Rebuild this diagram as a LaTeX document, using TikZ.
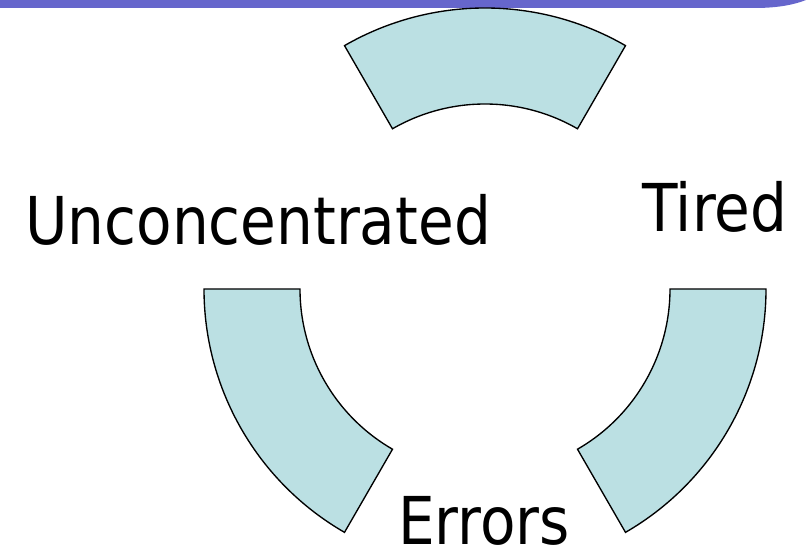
\documentclass[tikz,border=0pt]{standalone}
\usepackage{fontspec}
\usetikzlibrary{calc}
\setmainfont{DejaVu Sans}[FakeStretch=0.88]
\definecolor{segfill}{HTML}{BBE0E3}
\definecolor{barblue}{HTML}{6666CC}
\tikzset{
  seg/.style={fill=segfill, draw=black, line width=1.35bp, line join=miter},
  lbl/.style={anchor=base west, inner sep=0pt, font=\fontsize{66bp}{70bp}\selectfont},
}
\begin{document}
\begin{tikzpicture}[x=1bp,y=1bp]
\useasboundingbox (0,0) rectangle (810,552);
% top bar
\fill[barblue] (0,552) -- (0,544) -- (755,544) .. controls (780,544) and (796,548) .. (806,552) -- cycle;
\coordinate (c) at (485,263);
% segments
\draw[seg] ($(c)+(60:281)$) arc[start angle=60, end angle=120, radius=281]
  -- ($(c)+(120:185)$) arc[start angle=120, end angle=60, radius=185] -- cycle;
\draw[seg] ($(c)+(180:281)$) arc[start angle=180, end angle=240, radius=281]
  -- ($(c)+(240:185)$) arc[start angle=240, end angle=180, radius=185] -- cycle;
\draw[seg] ($(c)+(300:281)$) arc[start angle=300, end angle=360, radius=281]
  -- ($(c)+(360:185)$) arc[start angle=360, end angle=300, radius=185] -- cycle;
% labels
\node[lbl] (unc) at (25,307) {Unconcentrated};
\node[lbl] (tired) at (642,320) {Tired};
\node[lbl] (err) at (398,7) {Errors};
\end{tikzpicture}
\end{document}
